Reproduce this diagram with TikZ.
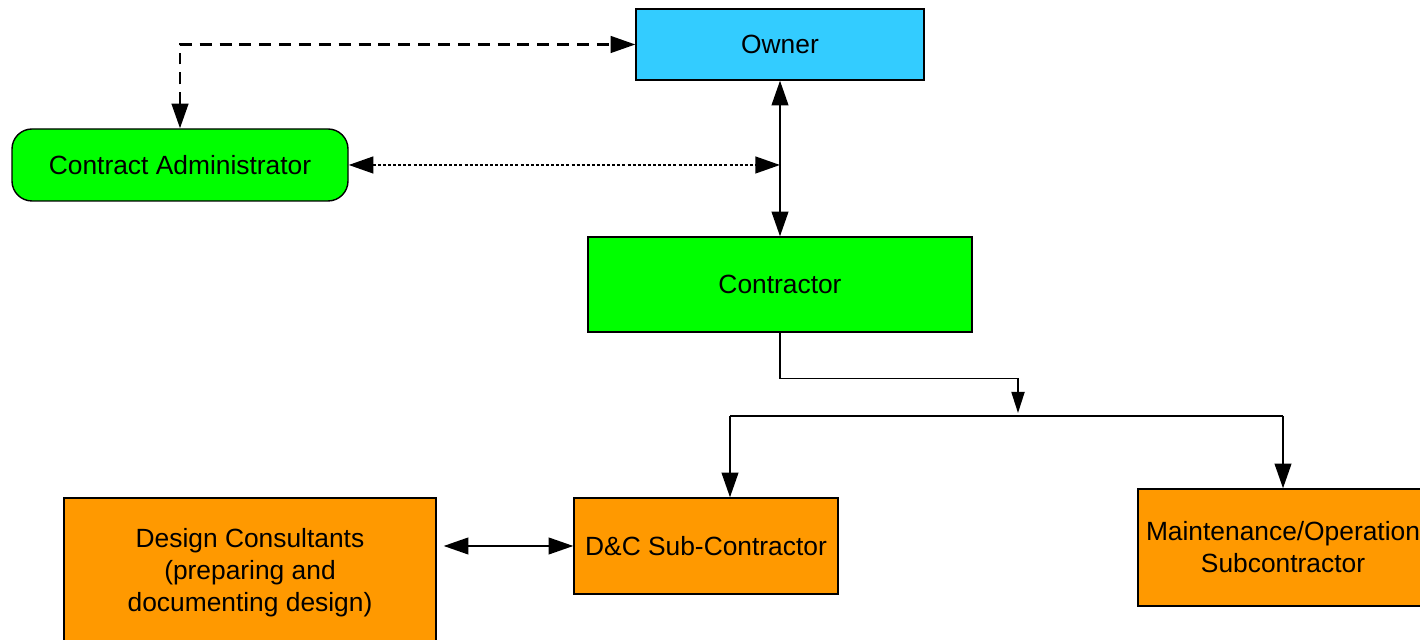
\documentclass[tikz,border=0pt]{standalone}
\usepackage{fontspec}
\setmainfont{Liberation Sans}
\usepackage{tikz}
\usetikzlibrary{arrows.meta,positioning,calc}
\definecolor{ownerblue}{HTML}{33CCFF}
\definecolor{cagreen}{HTML}{00FF00}
\definecolor{suborange}{HTML}{FF9900}
\tikzset{
  box/.style={draw,line width=0.8pt,align=center,
              font=\fontsize{15}{18.2}\selectfont,inner sep=2pt},
  bbox/.style={box,fill=ownerblue},
  gbox/.style={box,fill=cagreen},
  obox/.style={box,fill=suborange},
  arr/.style={-{Triangle[length=14pt,width=9.5pt]},line width=1pt},
  darr/.style={{Triangle[length=14pt,width=9.5pt]}-{Triangle[length=14pt,width=9.5pt]},
               line width=1pt},
}

\begin{document}
\begin{tikzpicture}
\useasboundingbox (0,0) rectangle (28.4,12.8);
\clip (0,0) rectangle (28.4,12.8);

%% ---------- top level ----------
\node[bbox,minimum width=5.76cm,minimum height=1.42cm]
  (owner) at (15.6,11.91) {Owner};
\node[gbox,rounded corners=0.4cm,minimum width=6.72cm,minimum height=1.44cm]
  (ca) at (3.6,9.5) {Contract Administrator};
\node[gbox,minimum width=7.68cm,minimum height=1.9cm]
  (con) at (15.6,7.11) {Contractor};

%% ---------- subcontractors ----------
\node[obox,minimum width=5.28cm,minimum height=1.92cm]
  (dc) at (14.12,1.88) {D\&C Sub-Contractor};
\node[obox,minimum width=7.44cm,minimum height=3.0cm]
  (des) at (5.0,1.34) {Design Consultants\\(preparing and\\documenting design)};
\node[obox,minimum width=5.8cm,minimum height=2.34cm]
  (mo) at (25.66,1.85) {Maintenance/Operation\\Subcontractor};

%% helper points
\coordinate (camid) at (15.6,9.5);
\coordinate (split) at (20.36,4.54);
\coordinate (busl) at (14.6,4.48);
\coordinate (busr) at (25.66,4.48);

%% owner links
\draw[darr,line width=1.2pt,dash pattern=on 6.8pt off 4.5pt] (ca.north) |- (owner.west);
\draw[darr] (owner.south) -- (con.north);
\draw[darr,line width=1.2pt,dash pattern=on 1.7pt off 1.2pt] (ca.east) -- (camid);

%% contractor to subcontractors
\draw[arr,line width=0.8pt,-{Triangle[length=12pt,width=7.5pt]}]
  (con.south) -- ++(0,-0.92) -| (split);
\draw[line width=1pt] (busl) -- (busr);
\draw[arr] (busl) -- (busl |- dc.north);
\draw[arr] (busr) -- (mo.north);
\draw[darr,shorten <=0.14cm] (dc.west -| des.east) -- (dc.west);
\end{tikzpicture}
\end{document}
